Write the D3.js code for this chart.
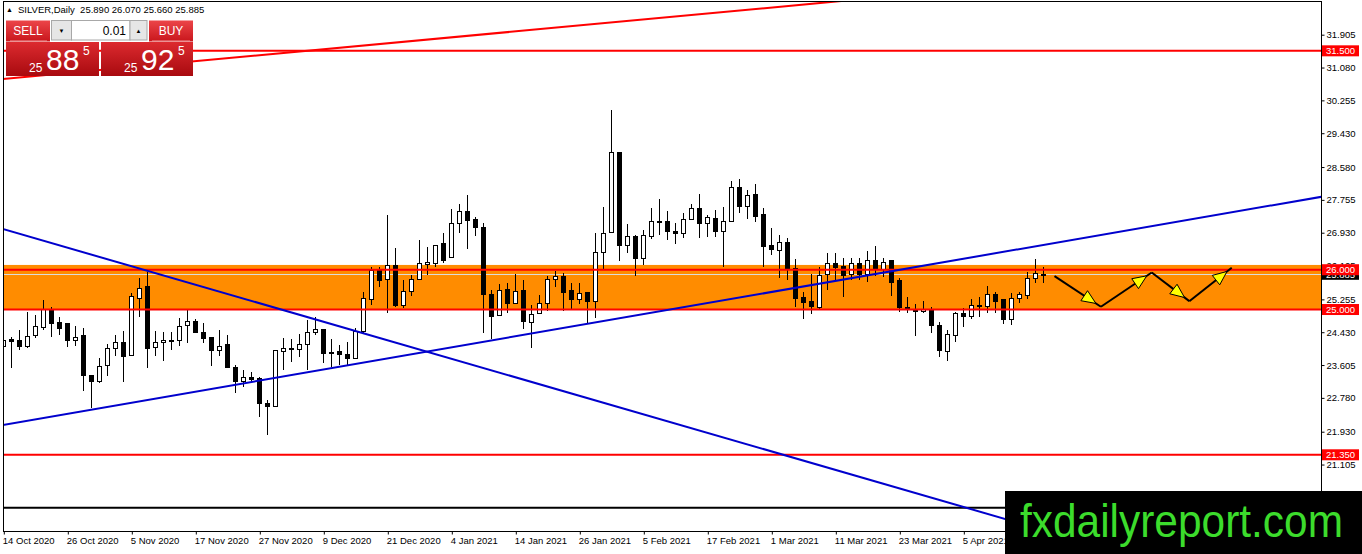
<!DOCTYPE html>
<html>
<head>
<meta charset="utf-8">
<script src="https://cdn.jsdelivr.net/npm/d3@7"></script>
<style>
body { margin: 0; background: #fff; overflow: hidden; }
svg { display: block; font-family: "Liberation Sans", Arial, sans-serif; }
</style>
</head>
<body>
<svg width="1362" height="554"></svg>
<script>
// SILVER daily, 14 Oct 2020 .. 19 Apr 2021 (one value per bar)
var openP = [24.08,24.25,24.23,24.07,24.34,24.55,24.99,24.67,24.64,24.22,
  24.34,23.35,23.19,23.60,24.03,24.18,23.84,25.28,25.59,24.04,
  24.18,24.23,24.22,24.60,24.71,24.43,24.30,23.98,24.13,23.55,
  23.19,23.30,23.27,22.63,22.56,23.94,24.03,24.00,24.13,24.42,
  24.51,23.93,23.94,23.88,23.77,24.44,25.26,25.97,25.76,26.10,
  25.09,25.45,25.76,26.14,26.16,26.66,26.31,27.17,27.46,27.25,
  27.07,25.37,24.84,25.51,25.16,25.47,24.68,24.91,25.16,25.76,
  25.84,25.47,25.26,25.42,25.20,26.43,26.94,28.95,26.60,26.83,
  26.27,26.83,27.22,27.21,26.97,26.92,27.27,27.53,27.17,27.29,
  26.96,27.21,28.07,27.58,27.88,27.38,26.62,26.48,26.69,26.04,
  25.30,25.21,25.06,25.89,26.16,26.08,25.89,26.16,25.89,26.24,
  26.01,26.22,25.72,25.05,25.01,24.95,24.99,24.61,23.94,24.34,
  24.91,24.82,25.07,25.07,25.38,25.24,24.75,25.28,25.35,25.79,
  25.890];
var highP = [24.57,24.30,24.49,24.95,24.86,25.24,25.06,24.82,24.66,24.59,
  24.53,23.36,23.77,24.13,24.36,24.46,25.42,25.79,25.95,24.46,
  24.43,24.44,24.78,24.99,24.75,24.65,24.32,24.49,24.36,23.61,
  23.48,23.44,23.30,22.73,23.98,24.28,24.25,24.38,24.74,24.82,
  24.52,24.25,24.11,24.19,24.53,25.45,26.08,26.06,27.38,26.54,
  25.74,25.87,26.75,26.58,26.62,26.92,27.52,27.65,27.88,27.32,
  27.17,25.49,25.63,25.66,25.89,25.74,25.11,25.37,25.84,25.98,
  25.91,25.66,25.66,25.43,26.92,27.58,30.01,28.96,27.15,26.87,
  27.00,27.54,27.78,27.48,27.17,27.42,27.65,27.90,27.38,27.50,
  27.57,28.24,28.28,28.00,28.15,27.54,27.04,26.87,26.79,26.26,
  25.45,25.89,26.08,26.43,26.41,26.29,26.29,26.29,26.48,26.60,
  26.29,26.22,25.80,25.32,25.13,25.21,25.06,24.69,24.49,24.95,
  25.03,25.26,25.31,25.59,25.45,25.24,25.42,25.43,25.95,26.26,
  26.070];
var lowP = [23.81,23.52,23.98,24.04,24.28,24.49,24.32,24.36,24.05,24.08,
  22.96,22.52,23.15,23.34,23.83,23.19,23.82,24.82,23.52,23.83,
  23.71,23.98,24.09,24.17,24.40,24.15,23.59,23.84,23.53,22.90,
  23.05,23.16,22.29,21.85,22.54,23.48,23.69,23.81,23.48,24.36,
  23.65,23.56,23.61,23.61,23.76,24.40,25.11,25.57,24.91,25.07,
  25.03,25.34,25.74,25.87,26.08,26.16,26.29,26.93,26.51,26.85,
  24.41,24.27,24.83,24.91,25.15,24.50,24.03,24.90,24.97,25.57,
  24.97,24.99,25.14,24.64,24.78,26.01,26.93,26.23,26.43,25.83,
  26.12,26.76,26.87,26.75,26.65,26.79,27.26,26.79,26.82,26.82,
  26.08,27.20,27.42,27.27,27.21,26.08,26.37,25.79,25.74,25.06,
  24.76,24.89,24.99,25.49,25.74,25.32,25.74,25.74,25.70,25.84,
  25.81,25.34,24.95,24.92,24.34,24.92,24.40,23.81,23.71,24.19,
  24.55,24.76,24.80,24.92,24.92,24.64,24.61,25.16,25.26,25.66,
  25.660];
var closeP = [24.21,24.20,24.07,24.32,24.57,24.99,24.65,24.53,24.22,24.30,
  23.34,23.19,23.57,24.03,24.18,23.81,25.32,25.53,24.03,24.18,
  24.23,24.19,24.57,24.71,24.42,24.27,23.98,24.08,23.55,23.19,
  23.30,23.25,22.64,22.56,23.97,24.03,24.00,24.13,24.43,24.50,
  23.90,23.90,23.86,23.77,24.44,25.28,25.98,25.72,26.10,25.09,
  25.45,25.76,26.16,26.18,26.60,26.24,27.17,27.46,27.23,27.07,
  25.37,24.83,25.47,25.15,25.45,24.69,24.88,25.16,25.76,25.83,
  25.42,25.26,25.41,25.20,26.44,26.92,28.95,26.60,26.83,26.27,
  26.87,27.22,27.18,26.96,26.92,27.27,27.53,27.15,27.32,26.96,
  27.21,28.07,27.58,27.86,27.33,26.58,26.50,26.69,26.02,25.28,
  25.17,25.07,25.86,26.16,26.06,25.85,26.16,25.89,26.24,26.02,
  26.19,25.68,25.05,25.04,24.95,25.01,24.59,23.97,24.36,24.91,
  24.82,25.10,25.11,25.38,25.20,24.75,25.28,25.37,25.79,25.91,
  25.885];

// date axis labels and the bar each one sits on
var dateLabels = ["14 Oct 2020","26 Oct 2020","5 Nov 2020","17 Nov 2020","27 Nov 2020",
  "9 Dec 2020","21 Dec 2020","4 Jan 2021","14 Jan 2021","26 Jan 2021","5 Feb 2021",
  "17 Feb 2021","1 Mar 2021","11 Mar 2021","23 Mar 2021","5 Apr 2021"];
var dateBars = [0,8,16,24,32,40,48,56,64,72,80,88,96,104,112,120];

// price scale ticks
var priceTicks = [31.905,31.080,30.255,29.430,28.580,27.755,26.930,26.105,
  25.255,24.430,23.605,22.780,21.930,21.105];

// drawn objects
var redLevels = [31.5, 26.0, 25.0, 21.35];
var blackLevel = 20.02;
var zone = [25.0, 26.12];
var bidPrice = 25.885;
var redTrend = [[0, 30.79], [102, 32.70]];
var blueDown = [[0, 27.02], [125, 19.75]];
var blueUp = [[0, 22.10], [164.7, 27.83]];
var arrowPts = [[131.4, 25.84], [137.2, 25.07], [143.55, 25.93], [148.25, 25.21], [153.55, 26.05]];

var W = 1362, H = 554;
var pL = 3, pT = 2, pR = 1321, pB = 532;

var svg = d3.select("svg");

var x = d3.scaleLinear().domain([0, 164.71]).range([3.3, pR]);
var y = d3.scaleLinear().domain([19.41, 32.7266]).range([pB, pT]);

var defs = svg.append("defs");
defs.append("clipPath").attr("id", "plot")
  .append("rect").attr("x", pL).attr("y", pT)
  .attr("width", pR - pL).attr("height", pB - pT);

var plot = svg.append("g").attr("clip-path", "url(#plot)");

// orange zone (background)
plot.append("rect")
  .attr("x", pL).attr("width", pR - pL)
  .attr("y", y(zone[1])).attr("height", y(zone[0]) - y(zone[1]))
  .attr("fill", "#ff8c00");

// bid line
plot.append("line")
  .attr("x1", pL).attr("x2", pR)
  .attr("y1", Math.round(y(bidPrice)) + 0.5).attr("y2", Math.round(y(bidPrice)) + 0.5)
  .attr("stroke", "#dcdcdc").attr("stroke-width", 1);

// candles
var bars = d3.range(openP.length);
var cg = plot.append("g").attr("shape-rendering", "crispEdges");
cg.selectAll("line.wick").data(bars).enter().append("line")
  .attr("class", "wick")
  .attr("x1", function (i) { return Math.round(x(i)) + 0.5; })
  .attr("x2", function (i) { return Math.round(x(i)) + 0.5; })
  .attr("y1", function (i) { return y(highP[i]); })
  .attr("y2", function (i) { return y(lowP[i]); })
  .attr("stroke", "#000").attr("stroke-width", 1);
cg.selectAll("rect.body").data(bars).enter().append("rect")
  .attr("class", "body")
  .attr("x", function (i) { return Math.round(x(i)) - 1.5; })
  .attr("width", 4)
  .attr("y", function (i) { return y(Math.max(openP[i], closeP[i])); })
  .attr("height", function (i) { return Math.max(1, Math.abs(y(openP[i]) - y(closeP[i]))); })
  .attr("fill", function (i) { return closeP[i] >= openP[i] ? "#fff" : "#000"; })
  .attr("stroke", "#000").attr("stroke-width", 1);

// horizontal levels
plot.selectAll("line.level").data(redLevels).enter().append("line")
  .attr("class", "level")
  .attr("x1", pL).attr("x2", pR)
  .attr("y1", function (d) { return y(d); }).attr("y2", function (d) { return y(d); })
  .attr("stroke", "#ff0000").attr("stroke-width", 2);
plot.append("line")
  .attr("x1", pL).attr("x2", pR)
  .attr("y1", y(blackLevel)).attr("y2", y(blackLevel))
  .attr("stroke", "#000").attr("stroke-width", 2);

// trend lines, extended as rays over the whole width
function ray(pts, colour) {
  var k = (pts[1][1] - pts[0][1]) / (pts[1][0] - pts[0][0]);
  var d0 = -1, d1 = 166;
  plot.append("line")
    .attr("x1", x(d0)).attr("y1", y(pts[0][1] + k * (d0 - pts[0][0])))
    .attr("x2", x(d1)).attr("y2", y(pts[0][1] + k * (d1 - pts[0][0])))
    .attr("stroke", colour).attr("stroke-width", 2);
}
ray(redTrend, "#ff0000");
ray(blueDown, "#0000cd");
ray(blueUp, "#0000cd");

// projected path with yellow arrow heads
var ag = plot.append("g");
for (var i = 0; i < arrowPts.length - 1; i++) {
  var sx = x(arrowPts[i][0]), sy = y(arrowPts[i][1]);
  var ex = x(arrowPts[i + 1][0]), ey = y(arrowPts[i + 1][1]);
  ag.append("line").attr("x1", sx).attr("y1", sy).attr("x2", ex).attr("y2", ey)
    .attr("stroke", "#000").attr("stroke-width", 2);
  var len = Math.hypot(ex - sx, ey - sy), ux = (ex - sx) / len, uy = (ey - sy) / len;
  var tx = ex - ux * 6, ty = ey - uy * 6, bx = tx - ux * 14, by = ty - uy * 14;
  ag.append("path")
    .attr("d", "M" + tx + "," + ty + "L" + (bx - uy * 6) + "," + (by + ux * 6) +
      "L" + (bx + uy * 6) + "," + (by - ux * 6) + "Z")
    .attr("fill", "#ffff00").attr("stroke", "#000").attr("stroke-width", 1);
}

// frame
svg.append("rect").attr("x", pL + 0.5).attr("y", pT - 0.5)
  .attr("width", pR - pL - 0.5).attr("height", pB - pT)
  .attr("fill", "none").attr("stroke", "#000").attr("stroke-width", 1)
  .attr("shape-rendering", "crispEdges");

// price axis
var yAxis = d3.axisRight(y).tickValues(priceTicks).tickSize(3).tickSizeOuter(0)
  .tickFormat(d3.format(".3f"));
var ya = svg.append("g").attr("transform", "translate(" + (pR + 0.5) + ",0)").call(yAxis);
ya.select(".domain").remove();
ya.selectAll("line").attr("stroke", "#000");
ya.selectAll("text").attr("x", 5).attr("font-size", "9.5px")
  .attr("font-family", "'Liberation Sans', Arial, sans-serif").attr("fill", "#000");

// price labels for bid and levels
function priceTag(p, bg) {
  var g = svg.append("g").attr("transform", "translate(" + (pR + 1) + "," + y(p) + ")");
  g.append("rect").attr("x", 0).attr("y", -5.5).attr("width", 37).attr("height", 11).attr("fill", bg);
  g.append("text").attr("x", 4).attr("y", 3.5).attr("font-size", "9.5px")
    .attr("fill", "#fff").text(p.toFixed(3));
}
priceTag(bidPrice, "#000");
redLevels.forEach(function (d) { priceTag(d, "#ff0000"); });

// date axis
var xAxis = d3.axisBottom(x).tickValues(dateBars).tickSize(3).tickSizeOuter(0)
  .tickFormat(function (d) { return dateLabels[dateBars.indexOf(d)]; });
var xa = svg.append("g").attr("transform", "translate(0," + (pB - 0.5) + ")").call(xAxis);
xa.select(".domain").remove();
xa.selectAll("line").attr("stroke", "#000").attr("transform", "translate(0.5,0)");
xa.selectAll("text").attr("text-anchor", "start").attr("x", -1).attr("y", 6)
  .attr("font-size", "9.5px").attr("font-family", "'Liberation Sans', Arial, sans-serif")
  .attr("fill", "#000");

// header
svg.append("text").attr("x", 6).attr("y", 12).attr("font-size", "7px").text("\u25B2");
svg.append("text").attr("x", 18).attr("y", 13).attr("font-size", "9.5px").attr("fill", "#000")
  .attr("xml:space", "preserve")
  .text("SILVER,Daily  " + [openP[130], highP[130], lowP[130], closeP[130]]
    .map(function (v) { return v.toFixed(3); }).join(" "));

// one-click trading panel
var g1 = defs.append("linearGradient").attr("id", "btn").attr("x1", 0).attr("x2", 0).attr("y1", 0).attr("y2", 1);
g1.append("stop").attr("offset", "0").attr("stop-color", "#ec4549");
g1.append("stop").attr("offset", "1").attr("stop-color", "#c9161c");
var g2 = defs.append("linearGradient").attr("id", "px").attr("x1", 0).attr("x2", 0).attr("y1", 0).attr("y2", 1);
g2.append("stop").attr("offset", "0").attr("stop-color", "#dc2a2f");
g2.append("stop").attr("offset", "1").attr("stop-color", "#a80a0f");

var panel = svg.append("g");
panel.append("rect").attr("x", 6).attr("y", 20.5).attr("width", 44).attr("height", 21).attr("fill", "url(#btn)");
panel.append("rect").attr("x", 149).attr("y", 20.5).attr("width", 44).attr("height", 21).attr("fill", "url(#btn)");
panel.append("text").attr("x", 28).attr("y", 35).attr("text-anchor", "middle").attr("font-size", "12px").attr("fill", "#fff").text("SELL");
panel.append("text").attr("x", 171).attr("y", 35).attr("text-anchor", "middle").attr("font-size", "12px").attr("fill", "#fff").text("BUY");
panel.append("line").attr("x1", 10).attr("x2", 47).attr("y1", 41).attr("y2", 41).attr("stroke", "#f29a9c");
panel.append("line").attr("x1", 152).attr("x2", 190).attr("y1", 41).attr("y2", 41).attr("stroke", "#f29a9c");
panel.append("rect").attr("x", 51.5).attr("y", 20.5).attr("width", 20).attr("height", 19.5)
  .attr("fill", "#e6e6e6").attr("stroke", "#a8a8a8");
panel.append("rect").attr("x", 71.5).attr("y", 20.5).attr("width", 58.5).attr("height", 19.5)
  .attr("fill", "#fff").attr("stroke", "#a8a8a8");
panel.append("rect").attr("x", 130).attr("y", 20.5).attr("width", 17).attr("height", 19.5)
  .attr("fill", "#e6e6e6").attr("stroke", "#a8a8a8");
panel.append("text").attr("x", 61.5).attr("y", 33).attr("text-anchor", "middle").attr("font-size", "6px").text("\u25BC");
panel.append("text").attr("x", 138.5).attr("y", 33).attr("text-anchor", "middle").attr("font-size", "6px").text("\u25B2");
panel.append("text").attr("x", 126).attr("y", 35).attr("text-anchor", "end").attr("font-size", "12px").attr("fill", "#000").text("0.01");

function priceBox(x0, w, big, px) {
  panel.append("rect").attr("x", x0).attr("y", 42).attr("width", w).attr("height", 34).attr("fill", "url(#px)");
  panel.append("text").attr("x", x0 + 23).attr("y", 71.5).attr("font-size", "12px").attr("fill", "#fff").text("25");
  panel.append("text").attr("x", x0 + 40).attr("y", 70).attr("font-size", "30px").attr("fill", "#fff").text(big);
  panel.append("text").attr("x", x0 + 77).attr("y", 55).attr("font-size", "12px").attr("fill", "#fff").text(px);
}
var sellPrice = "25.885", buyPrice = "25.925";
priceBox(6, 93, sellPrice.slice(3, 5), sellPrice.slice(5));
priceBox(101, 92, buyPrice.slice(3, 5), buyPrice.slice(5));

// watermark
svg.append("rect").attr("x", 1005).attr("y", 491).attr("width", W - 1005).attr("height", H - 491).attr("fill", "#000");
svg.append("text").attr("x", 1020).attr("y", 537)
  .attr("font-family", "'Liberation Sans Narrow', 'Liberation Sans', Arial, sans-serif")
  .attr("font-size", "46px").attr("fill", "#3cdc2c")
  .attr("textLength", 323).attr("lengthAdjust", "spacingAndGlyphs")
  .text("fxdailyreport.com");
</script>
</body>
</html>
